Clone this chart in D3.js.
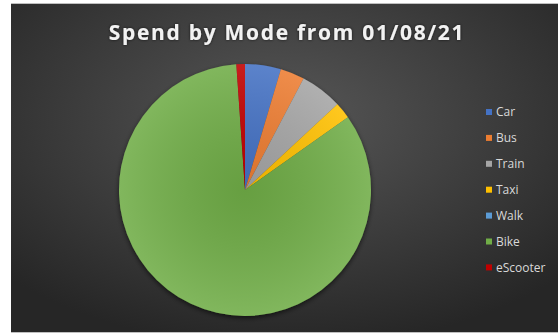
<!DOCTYPE html>
<html>
<head>
<meta charset="utf-8">
<script src="https://cdn.jsdelivr.net/npm/d3@7"></script>
<style>
  body { margin: 0; background: #fff; }
  svg { display: block; }
</style>
</head>
<body>
<div id="chart"></div>
<script>
// data (share of spend)
var modes = ["Car", "Bus", "Train", "Taxi", "Walk", "Bike", "eScooter"];
var spend = [46, 31, 54, 21, 0, 837, 11];
var colours = ["#4472C4", "#ED7D31", "#A5A5A5", "#FFC000", "#5B9BD5", "#70AD47", "#C00000"];

var W = 558, H = 335;
var svg = d3.select("#chart")
  .append("svg")
    .attr("width", W)
    .attr("height", H);

var defs = svg.append("defs");

// dark radial background like the Excel style
var bg = defs.append("radialGradient")
    .attr("id", "bg")
    .attr("cx", "50%").attr("cy", "35%").attr("r", "70%");
bg.append("stop").attr("offset", "0%").attr("stop-color", "#575757");
bg.append("stop").attr("offset", "100%").attr("stop-color", "#262626");

// slices get lighter towards the rim
var sheen = defs.append("radialGradient")
    .attr("id", "sheen")
    .attr("gradientUnits", "userSpaceOnUse")
    .attr("cx", 0).attr("cy", 0).attr("r", 126);
sheen.append("stop").attr("offset", "0%").attr("stop-color", "#000").attr("stop-opacity", 0.08);
sheen.append("stop").attr("offset", "100%").attr("stop-color", "#fff").attr("stop-opacity", 0.12);

var shadow = defs.append("filter").attr("id", "shadow")
    .attr("x", "-20%").attr("y", "-20%").attr("width", "140%").attr("height", "140%");
shadow.append("feDropShadow")
    .attr("dx", 0).attr("dy", 2).attr("stdDeviation", 2.5)
    .attr("flood-color", "#000").attr("flood-opacity", 0.6);

var glow = defs.append("filter").attr("id", "glow")
    .attr("x", "-10%").attr("y", "-30%").attr("width", "120%").attr("height", "160%");
glow.append("feDropShadow")
    .attr("dx", 0).attr("dy", 0).attr("stdDeviation", 1.5)
    .attr("flood-color", "#000").attr("flood-opacity", 0.7);

// chart area border/frame
svg.append("rect")
    .attr("x", 11).attr("y", 3)
    .attr("width", W - 11).attr("height", 330)
    .attr("fill", "#bfbfbf");
svg.append("rect")
    .attr("x", 11).attr("y", 4)
    .attr("width", W - 11).attr("height", 328)
    .attr("fill", "url(#bg)");

// title
svg.append("text")
    .attr("x", 287)
    .attr("y", 40)
    .attr("text-anchor", "middle")
    .attr("fill", "#f2f2f2")
    .attr("font-family", "'Open Sans', sans-serif")
    .attr("font-weight", 700)
    .attr("font-size", 21)
    .attr("letter-spacing", 1.7)
    .attr("filter", "url(#glow)")
    .text("Spend by Mode from 01/08/21");

// pie
var radius = 126;
var pie = d3.pie().sort(null).value(function (d) { return d; });
var arc = d3.arc().innerRadius(0).outerRadius(radius);

var g = svg.append("g")
    .attr("transform", "translate(245,190)");

var slices = g.append("g").attr("filter", "url(#shadow)");
slices.selectAll("path.slice")
  .data(pie(spend))
  .enter()
  .append("path")
    .attr("class", "slice")
    .attr("d", arc)
    .attr("fill", function (d, i) { return colours[i]; });

g.selectAll("path.sheen")
  .data(pie(spend))
  .enter()
  .append("path")
    .attr("class", "sheen")
    .attr("d", arc)
    .attr("fill", "url(#sheen)");

// legend
var legend = svg.append("g")
    .attr("transform", "translate(486,112)");

var rows = legend.selectAll("g")
  .data(modes)
  .enter()
  .append("g")
    .attr("transform", function (d, i) { return "translate(0," + (i * 25.9) + ")"; });

rows.append("rect")
    .attr("x", 0).attr("y", -3)
    .attr("width", 6).attr("height", 6)
    .attr("fill", function (d, i) { return colours[i]; });

rows.append("text")
    .attr("x", 10)
    .attr("y", 0)
    .attr("dy", "0.35em")
    .attr("fill", "#d9d9d9")
    .attr("font-family", "'Open Sans', sans-serif")
    .attr("font-size", 12)
    .text(function (d) { return d; });
</script>
</body>
</html>
